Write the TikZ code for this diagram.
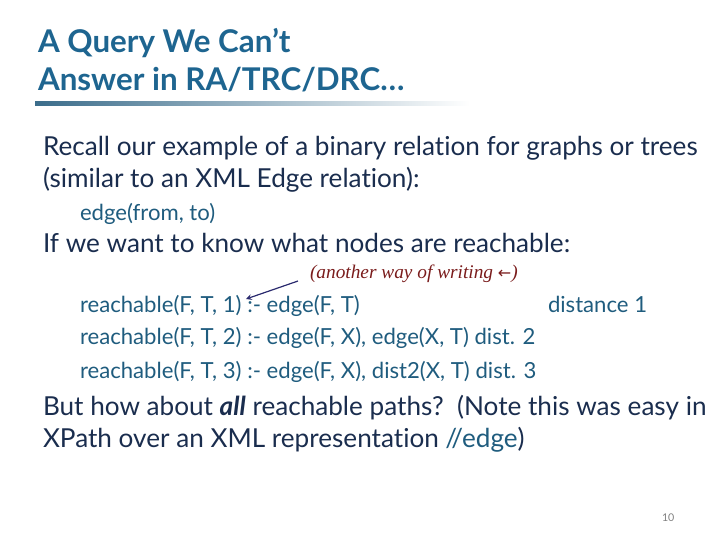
\documentclass[tikz,border=0pt]{standalone}
\usepackage{fontspec}
\setmainfont{Lato}[Ligatures={NoCommon}]
\newfontfamily\serifit{Liberation Serif}
\newfontfamily\symf{DejaVu Sans}
\definecolor{ttl}{HTML}{1E6590}
\definecolor{body}{HTML}{1A2D4E}
\definecolor{code}{HTML}{1F5C7E}
\definecolor{note}{HTML}{7A1C1C}
\definecolor{arr}{HTML}{2A2A6E}
\begin{document}
\begin{tikzpicture}[x=0.75pt,y=-0.75pt,
  every node/.style={anchor=base west,inner sep=0pt,outer sep=0pt},
  title/.style={font=\fontsize{23.5}{28}\selectfont\bfseries,text=ttl},
  bodyt/.style={font=\fontsize{19.6}{23}\selectfont,text=body},
  codet/.style={font=\fontsize{16.6}{20}\selectfont,text=code}]
\useasboundingbox (0,0) rectangle (720,540);
\node[title] (t1) at (38,52) {A Query We Can’t};
\node[title] (t2) at (38,90) {Answer in RA/TRC/DRC…};
\shade[left color=ttl!70!gray,right color=white] (35,101) rectangle (470,105);
\node[bodyt] (b1) at (43,155) {Recall our example of a binary relation for graphs or trees};
\node[bodyt] (b2) at (43,187) {(similar to an XML Edge relation):};
\node[codet] (c0) at (80,220) {edge(from, to)};
\node[bodyt] (b3) at (43,252) {If we want to know what nodes are reachable:};
\node[font=\fontsize{14.5}{17}\selectfont\serifit\itshape,text=note] (n1) at (310,278) {(another way of writing {\symf\upshape\fontsize{12}{14}\selectfont ←})};
\node[codet] (c1) at (80,312) {reachable(F, T, 1) :- edge(F, T)};
\node[codet] (d1) at (548,312) {distance 1};
\node[codet] (c2) at (80,344) {reachable(F, T, 2) :- edge(F, X), edge(X, T) dist. 2};
\node[codet] (c3) at (80,378) {reachable(F, T, 3) :- edge(F, X), dist2(X, T) dist. 3};
\coordinate (a0) at (298,281);
\coordinate (a1) at (246,299);
\draw[arr,line width=0.9pt,-stealth] (a0) -- (a1);
\node[bodyt] (b4) at (43,415) {But how about \textbf{\itshape all} reachable paths?\ \ (Note this was easy in};
\node[bodyt] (b5) at (43,447) {XPath over an XML representation {\color{code}//edge})};
\node[font=\fontsize{8}{10}\selectfont,text=gray] (pg) at (662,521) {10};
\end{tikzpicture}
\end{document}
